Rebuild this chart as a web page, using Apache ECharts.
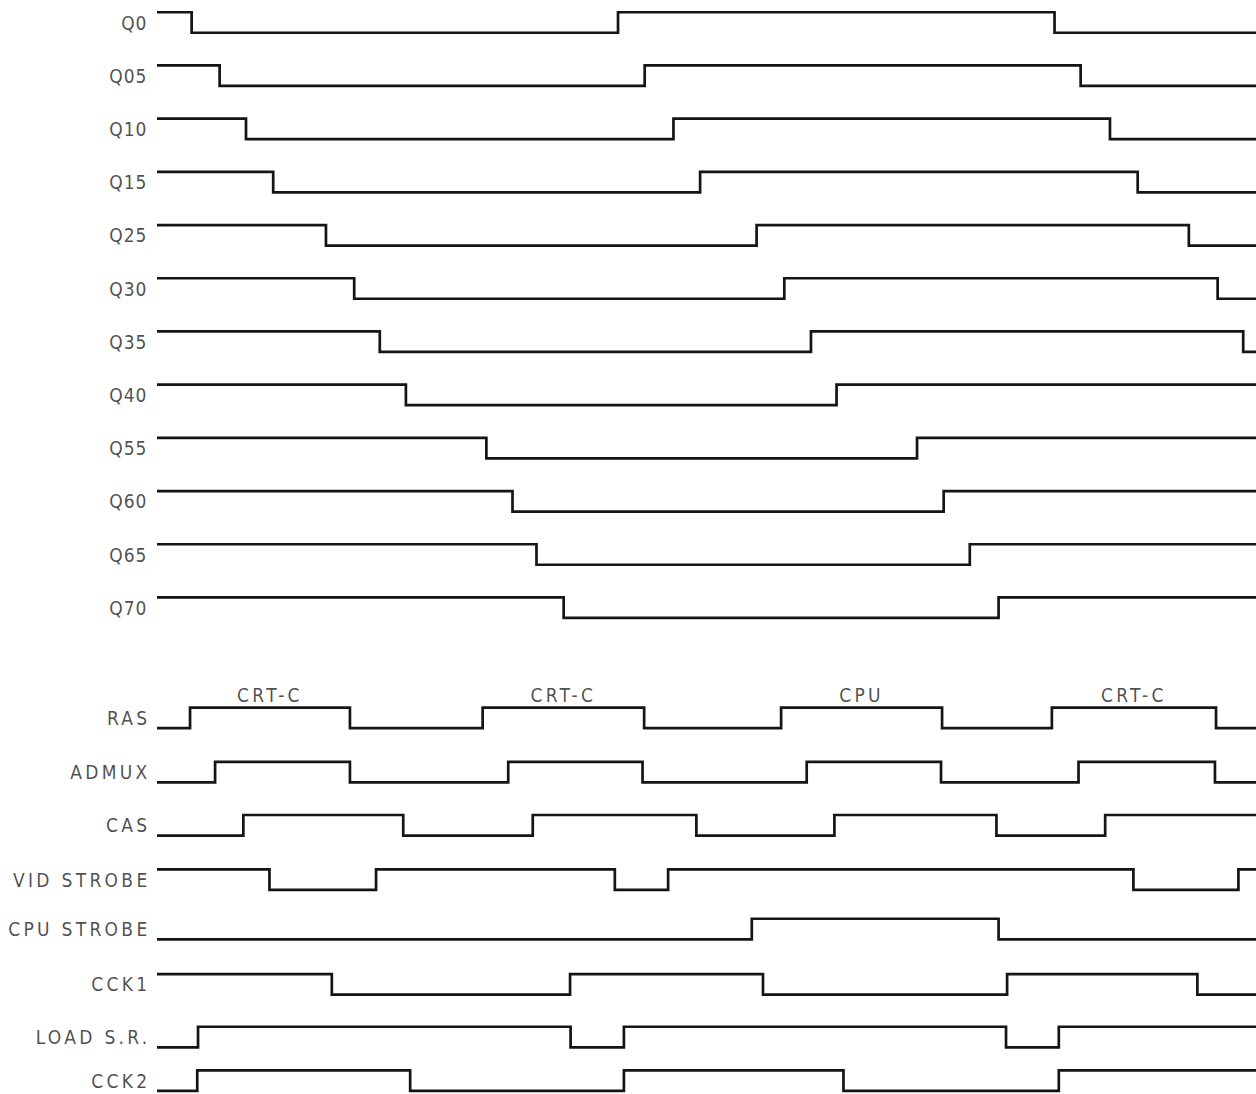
<!DOCTYPE html>
<html><head><meta charset="utf-8">
<script src="https://cdn.jsdelivr.net/npm/echarts@6/dist/echarts.min.js"></script>
<style>html,body{margin:0;padding:0;background:#fff}#main{width:1256px;height:1094px}</style>
</head><body><div id="main"></div>
<script>
// ---- data: signal names, starting levels and transition times (ns) ----
const qNames = ['Q0','Q05','Q10','Q15','Q25','Q30','Q35','Q40','Q55','Q60','Q65','Q70'];
const qStart = [1,1,1,1,1,1,1,1,1,1,1,1];
const qEdges = [
  [0, 80.0, 161.9],
  [5.25, 85.0, 166.8],
  [10.2, 90.4, 172.3],
  [15.3, 95.4, 177.5],
  [25.2, 106.0, 187.1],
  [30.5, 111.2, 192.5],
  [35.3, 116.2, 197.3],
  [40.2, 121.0],
  [55.3, 136.1],
  [60.2, 141.1],
  [64.7, 146.0],
  [69.8, 151.4]
];
const ctlNames = ['RAS','ADMUX','CAS','VID STROBE','CPU STROBE','CCK1','LOAD S.R.','CCK2'];
const ctlStart = [0,0,0,1,0,1,0,0];
const ctlEdges = [
  [-0.3, 29.7, 54.6, 84.9, 110.6, 140.8, 161.4, 192.2],
  [4.4, 29.7, 59.4, 84.6, 115.4, 140.6, 166.4, 192.0],
  [9.7, 39.7, 64.0, 94.7, 120.6, 151.0, 171.4],
  [14.6, 34.6, 79.4, 89.4, 176.7, 196.4],
  [105.1, 151.4],
  [26.3, 71.0, 107.2, 153.0, 188.7],
  [1.2, 71.1, 81.1, 152.8, 162.7],
  [1.05, 41.0, 81.1, 122.3, 162.7]
];
const phaseNames = ['CRT-C','CRT-C','CPU','CRT-C'];

// ---- layout ----
const T_MIN = -6.5, T_MAX = 199.7;
const qLanes = [0,1,2,3,4,5,6,7,8,9,10,11];
const ctlLanes = [13.07,14.09,15.09,16.11,17.04,18.08,19.07,19.89];
const HALF = 0.193;
const LINE = '#151515', TEXT = '#1f1f1f';
const FONT = "'DejaVu Sans Condensed','Liberation Sans Narrow','DejaVu Sans',sans-serif";

function lvlY(lane, lvl){ return lane + (lvl ? -HALF : HALF); }
function wave(start, edges, lane){
  let lvl = start;
  const pts = [[T_MIN, lvlY(lane, lvl)]];
  edges.forEach(t => { pts.push([t, lvlY(lane, lvl)]); lvl = 1 - lvl; pts.push([t, lvlY(lane, lvl)]); });
  pts.push([T_MAX, lvlY(lane, lvl)]);
  return pts;
}
const series = [];
const allNames = qNames.concat(ctlNames);
const allStart = qStart.concat(ctlStart);
const allEdges = qEdges.concat(ctlEdges);
const allLanes = qLanes.concat(ctlLanes);
allNames.forEach((n, i) => {
  series.push({
    type: 'line', name: n, data: wave(allStart[i], allEdges[i], allLanes[i]),
    showSymbol: false, symbol: 'none', clip: false, silent: true,
    lineStyle: { color: LINE, width: 2.7, cap: 'butt', join: 'miter' }
  });
});
// left labels
series.push({
  type: 'scatter', symbolSize: 1, itemStyle: { color: 'rgba(0,0,0,0)' }, silent: true,
  data: allNames.map((n, i) => ({
    value: [T_MIN, allLanes[i]], name: n,
    label: { show: true, position: 'left', distance: i < qNames.length ? 9 : 6,
      formatter: n, color: TEXT, fontSize: 19, fontFamily: FONT }
  }))
});
// phase labels above RAS high pulses
const ras = ctlEdges[0];
const phaseData = phaseNames.map((p, k) => ({
  value: [(ras[2*k] + ras[2*k+1]) / 2, lvlY(ctlLanes[0], 1)], name: p,
  label: { show: true, position: 'top', distance: 3, formatter: p, color: TEXT, fontSize: 19, fontFamily: FONT }
}));
series.push({ type: 'scatter', symbolSize: 1, itemStyle: { color: 'rgba(0,0,0,0)' }, silent: true, data: phaseData });

const chart = echarts.init(document.getElementById('main'), null, { renderer: 'svg' });
chart.setOption({
  animation: false,
  backgroundColor: '#fff',
  grid: { left: 157, right: 0, top: 0, bottom: 0 },
  xAxis: { type: 'value', min: T_MIN, max: T_MAX, show: false },
  yAxis: { type: 'value', inverse: true, min: -22.5/53.2, max: (1094-22.5)/53.2, show: false },
  series: series
});
function spacing(){
  document.querySelectorAll('#main svg text').forEach(t => {
    const s = t.textContent;
    t.setAttribute('letter-spacing', /^Q\d+$/.test(s) ? '1px' : '3.3px');
  });
}
chart.on('finished', spacing);
setTimeout(spacing, 50);
</script></body></html>
